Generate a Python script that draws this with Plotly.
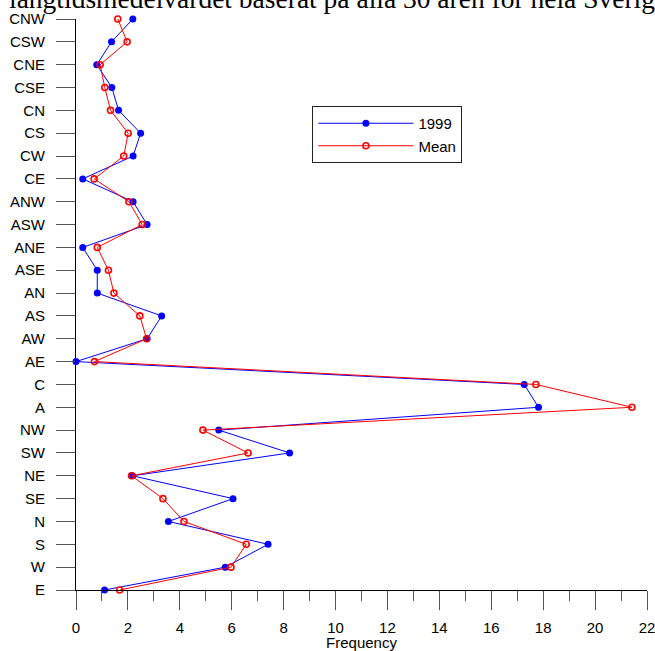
import plotly.graph_objects as go

# Categories listed top-to-bottom as in the chart
categories = ["CNW", "CSW", "CNE", "CSE", "CN", "CS", "CW", "CE",
              "ANW", "ASW", "ANE", "ASE", "AN", "AS", "AW", "AE",
              "C", "A", "NW", "SW", "NE", "SE", "N", "S", "W", "E"]

freq_1999 = [2.19, 1.37, 0.80, 1.38, 1.64, 2.49, 2.20, 0.26,
             2.20, 2.74, 0.26, 0.82, 0.82, 3.30, 2.74, 0.00,
             17.27, 17.82, 5.50, 8.23, 2.18, 6.05, 3.56, 7.40, 5.75, 1.10]

freq_mean = [1.61, 1.97, 0.93, 1.11, 1.33, 2.01, 1.84, 0.70,
             2.04, 2.55, 0.82, 1.25, 1.46, 2.46, 2.72, 0.71,
             17.72, 21.42, 4.89, 6.63, 2.14, 3.35, 4.16, 6.56, 5.97, 1.68]

x_ticks = list(range(0, 23, 2))

title_text = "långtidsmedelvärdet baserat på alla 30 åren för hela Sverige"

W, H = 655, 651
ML, MR, MT, MB = 75.5, 8.3, 19, 61
pw = W - ML - MR
ph = H - MT - MB

def px_to_paper_x(p):
    return (p - ML) / pw

def px_to_paper_y(p):
    return (H - MB - p) / ph

fig = go.Figure()
fig.add_trace(go.Scatter(
    x=freq_1999, y=categories, name="1999", mode="lines+markers",
    line=dict(color="#0000FF", width=1),
    marker=dict(symbol="circle", size=7, color="#0000FF"),
    cliponaxis=False,
))
fig.add_trace(go.Scatter(
    x=freq_mean, y=categories, name="Mean", mode="lines+markers",
    line=dict(color="#FF0000", width=1),
    marker=dict(symbol="circle-open", size=6, color="#FF0000",
                line=dict(width=1.6, color="#FF0000")),
    cliponaxis=False,
))

font_sans = "Liberation Sans, Arial, sans-serif"

fig.update_layout(
    width=W, height=H,
    margin=dict(l=ML, r=MR, t=MT, b=MB, pad=0, autoexpand=False),
    paper_bgcolor="white", plot_bgcolor="white",
    font=dict(family=font_sans, size=15, color="black"),
    showlegend=True,
    legend=dict(
        x=px_to_paper_x(312), y=px_to_paper_y(106),
        xanchor="left", yanchor="top",
        bordercolor="#222", borderwidth=1, bgcolor="white",
        font=dict(family=font_sans, size=15, color="black"),
        itemwidth=95,
        entrywidth=200, entrywidthmode="pixels",
        tracegroupgap=0,
    ),
    xaxis=dict(
        range=[0, 22], tickvals=x_ticks, ticktext=[str(v) for v in x_ticks],
        showline=True, linecolor="black", linewidth=1,
        ticks="outside", ticklen=19, tickwidth=1, tickcolor="#555",
        minor=dict(dtick=1, ticks="outside", ticklen=10, tickwidth=1, tickcolor="#555"),
        showgrid=False, zeroline=False, automargin=False,
        ticklabelstandoff=5, ticklabeloverflow="allow",
        title=dict(text="Frequency", standoff=7, font=dict(size=15)),
        tickfont=dict(size=15),
    ),
    yaxis=dict(
        type="category", categoryorder="array",
        categoryarray=list(reversed(categories)),
        range=[0, 25],
        showline=True, linecolor="black", linewidth=1,
        ticks="outside", ticklen=19, tickwidth=1, tickcolor="#555",
        showgrid=False, zeroline=False, automargin=False,
        tickfont=dict(size=15),
        ticklabelstandoff=8,
    ),
    annotations=[dict(
        text=title_text, xref="paper", yref="paper",
        x=px_to_paper_x(6), y=px_to_paper_y(-1.0),
        xanchor="left", yanchor="middle", showarrow=False,
        font=dict(family="Liberation Serif, Times New Roman, serif", size=27.5, color="black"),
    )],
)

fig.write_html(
    "out.html",
    config={"displayModeBar": False},
    post_script="document.body.style.margin='0';document.body.style.overflow='hidden';",
)
